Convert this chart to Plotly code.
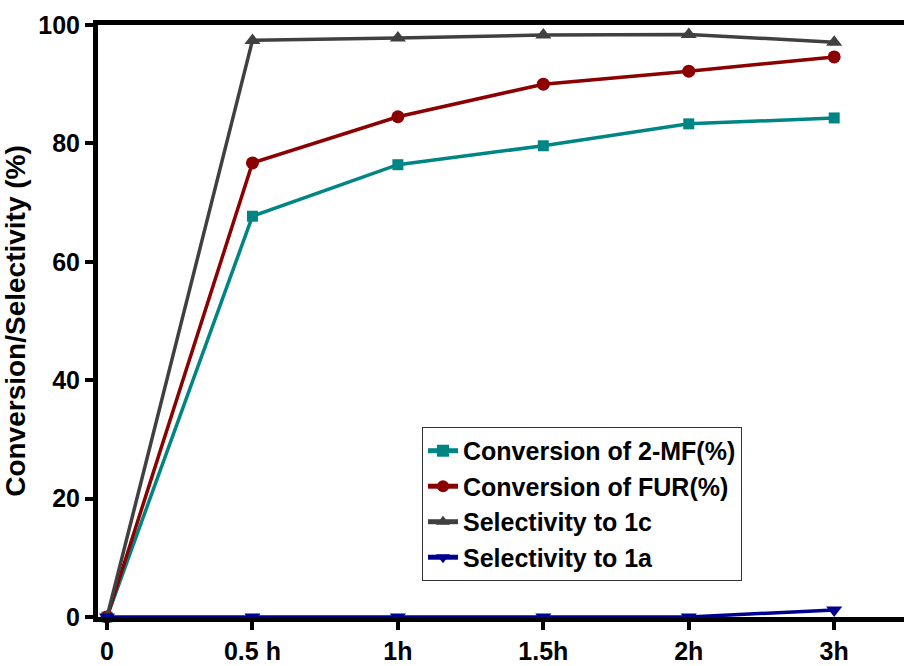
import plotly.graph_objects as go

categories = ["0", "0.5 h", "1h", "1.5h", "2h", "3h"]
conv_2mf = [0, 67.7, 76.4, 79.6, 83.3, 84.3]
conv_fur = [0, 76.7, 84.5, 90.0, 92.2, 94.6]
sel_1c = [0, 97.4, 97.8, 98.3, 98.4, 97.1]
sel_1a = [0, 0, 0, 0, 0, 1.2]

series = [
    ("Conversion of 2-MF(%)", conv_2mf, "#008585", "square", 11),
    ("Conversion of FUR(%)", conv_fur, "#8B0000", "circle", 13),
    ("Selectivity to 1c", sel_1c, "#404040", "triangle-up", 14),
    ("Selectivity to 1a", sel_1a, "#000090", "triangle-down", 14),
]

fig = go.Figure()
for name, vals, color, sym, sz in series:
    fig.add_trace(go.Scatter(
        x=list(range(len(categories))), y=vals, name="<b>%s</b>" % name, mode="lines+markers",
        line=dict(color=color, width=3.5), marker=dict(symbol=sym, size=sz, color=color),
        cliponaxis=False,
    ))

font = "Liberation Sans, Arial, sans-serif"
fig.update_layout(
    width=904, height=666,
    margin=dict(l=98, r=0, t=25, b=49),
    plot_bgcolor="white", paper_bgcolor="white",
    showlegend=True,
    legend=dict(x=0.402, y=0.321, xanchor="left", yanchor="top",
                bordercolor="#333", borderwidth=1, bgcolor="white",
                font=dict(family=font, size=25, color="black"),
                tracegroupgap=0, itemsizing="constant"),
    font=dict(family=font, color="black"),
)
fig.update_xaxes(
    range=[-0.062, 5.48], tickmode="array", tickvals=list(range(len(categories))),
    ticktext=["<b>%s</b>" % c for c in categories],
    showline=True, linecolor="black", linewidth=5, mirror=True,
    ticks="outside", ticklen=8, tickwidth=4, tickcolor="black",
    showgrid=False, zeroline=False, tickfont=dict(family=font, size=25, color="black"),
)
fig.update_yaxes(
    range=[0, 100], tickvals=[0, 20, 40, 60, 80, 100],
    ticktext=["<b>%d</b>" % v for v in [0, 20, 40, 60, 80, 100]],
    showline=True, linecolor="black", linewidth=5,
    ticks="outside", ticklen=8, tickwidth=4, tickcolor="black",
    showgrid=False, zeroline=False, tickfont=dict(family=font, size=25, color="black"),
    title=dict(text="<b>Conversion/Selectivity (%)</b>", font=dict(family=font, size=28, color="black"), standoff=10),
)
fig.write_html("out.html")
